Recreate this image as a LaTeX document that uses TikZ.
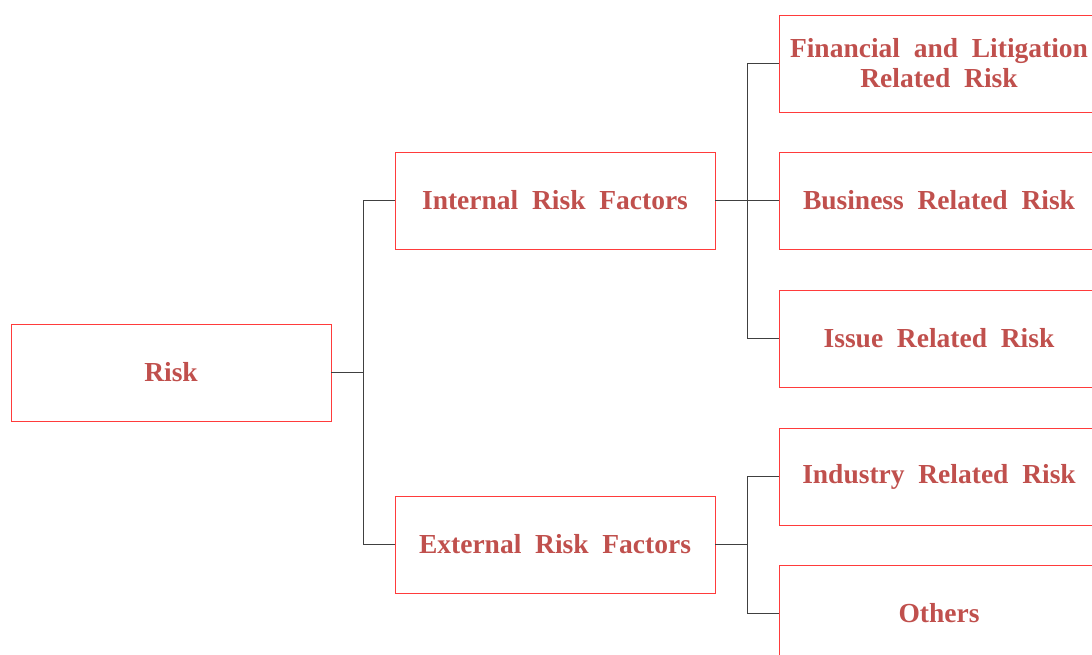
\documentclass[tikz,border=0pt]{standalone}
\usepackage{fontspec}
\setmainfont{Liberation Serif}
\definecolor{txtred}{HTML}{C0504D}
\definecolor{boxred}{HTML}{FF3B3B}
\begin{document}
\begin{tikzpicture}[x=1pt,y=-1pt,
  box/.style={draw=boxred,line width=0.8pt,minimum width=320pt,minimum height=97pt,
    inner sep=0pt,align=center,text=txtred,font=\fontsize{27.5}{30}\selectfont\bfseries},
  link/.style={draw=black!75,line width=0.8pt}]
\useasboundingbox (0,0) rectangle (1092,655);
\clip (0,0) rectangle (1092,655);
\node[box] (risk) at (171,372.5) {Risk};
\node[box] (int) at (555,200.5) {Internal\ \ Risk\ \ Factors};
\node[box] (ext) at (555,544.5) {External\ \ Risk\ \ Factors};
\node[box] (fin) at (939,63.5) {Financial\ \ and\ \ Litigation\\Related\ \ Risk};
\node[box] (bus) at (939,200.5) {Business\ \ Related\ \ Risk};
\node[box] (iss) at (939,338.5) {Issue\ \ Related\ \ Risk};
\node[box] (ind) at (939,476.5) {Industry\ \ Related\ \ Risk};
\node[box] (oth) at (939,613.5) {Others};
\coordinate (j1) at (363,372.5);
\coordinate (j2) at (747,200.5);
\coordinate (j3) at (747,544.5);
\draw[link] (risk.east) -- (j1);
\draw[link] (j1) |- (int.west);
\draw[link] (j1) |- (ext.west);
\draw[link] (int.east) -- (j2);
\draw[link] (j2) |- (fin.west);
\draw[link] (j2) -- (bus.west);
\draw[link] (j2) |- (iss.west);
\draw[link] (ext.east) -- (j3);
\draw[link] (j3) |- (ind.west);
\draw[link] (j3) |- (oth.west);
\end{tikzpicture}
\end{document}
